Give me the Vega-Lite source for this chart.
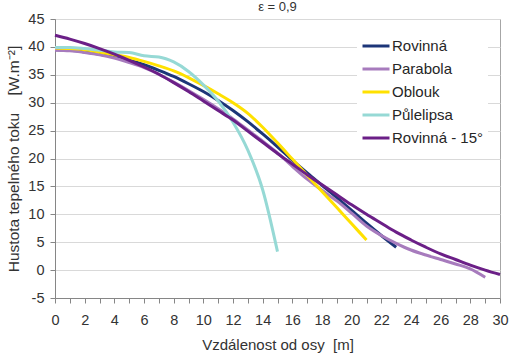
{
  "$schema": "https://vega.github.io/schema/vega-lite/v6.json",
  "width": 445,
  "height": 279,
  "autosize": {"type": "none"},
  "padding": {"left": 55, "top": 19, "right": 12, "bottom": 60},
  "background": "white",
  "config": {
    "font": "Liberation Sans",
    "view": {"stroke": "#a6a6a6", "strokeWidth": 1}
  },
  "title": {"text": "ε = 0,9", "fontSize": 13, "fontWeight": "normal", "color": "#333333", "anchor": "middle", "offset": -3},
  "datasets": {
    "d": [
      {"s": "Rovinná", "x": 0, "y": 39.5}, {"s": "Rovinná", "x": 1, "y": 39.4}, {"s": "Rovinná", "x": 2, "y": 39.1}, {"s": "Rovinná", "x": 3, "y": 38.7}, {"s": "Rovinná", "x": 4, "y": 38.2}, {"s": "Rovinná", "x": 5, "y": 37.6}, {"s": "Rovinná", "x": 6, "y": 36.8}, {"s": "Rovinná", "x": 7, "y": 35.8}, {"s": "Rovinná", "x": 8, "y": 34.7}, {"s": "Rovinná", "x": 9, "y": 33.4}, {"s": "Rovinná", "x": 10, "y": 32.0}, {"s": "Rovinná", "x": 11, "y": 30.4}, {"s": "Rovinná", "x": 12, "y": 28.6}, {"s": "Rovinná", "x": 13, "y": 26.6}, {"s": "Rovinná", "x": 14, "y": 24.4}, {"s": "Rovinná", "x": 15, "y": 22.1}, {"s": "Rovinná", "x": 16, "y": 19.7}, {"s": "Rovinná", "x": 17, "y": 17.4}, {"s": "Rovinná", "x": 18, "y": 15.2}, {"s": "Rovinná", "x": 19, "y": 13.0}, {"s": "Rovinná", "x": 20, "y": 10.7}, {"s": "Rovinná", "x": 21, "y": 8.4}, {"s": "Rovinná", "x": 22, "y": 6.2}, {"s": "Rovinná", "x": 23, "y": 4.1},
      {"s": "Parabola", "x": 0, "y": 39.4}, {"s": "Parabola", "x": 1, "y": 39.3}, {"s": "Parabola", "x": 2, "y": 39.0}, {"s": "Parabola", "x": 3, "y": 38.6}, {"s": "Parabola", "x": 4, "y": 38.0}, {"s": "Parabola", "x": 5, "y": 37.2}, {"s": "Parabola", "x": 6, "y": 36.3}, {"s": "Parabola", "x": 7, "y": 35.1}, {"s": "Parabola", "x": 8, "y": 33.7}, {"s": "Parabola", "x": 9, "y": 32.2}, {"s": "Parabola", "x": 10, "y": 30.6}, {"s": "Parabola", "x": 11, "y": 28.9}, {"s": "Parabola", "x": 12, "y": 27.1}, {"s": "Parabola", "x": 13, "y": 25.1}, {"s": "Parabola", "x": 14, "y": 23.1}, {"s": "Parabola", "x": 15, "y": 21.0}, {"s": "Parabola", "x": 16, "y": 18.6}, {"s": "Parabola", "x": 17, "y": 16.3}, {"s": "Parabola", "x": 18, "y": 14.3}, {"s": "Parabola", "x": 19, "y": 12.4}, {"s": "Parabola", "x": 20, "y": 10.2}, {"s": "Parabola", "x": 21, "y": 7.9}, {"s": "Parabola", "x": 22, "y": 6.2}, {"s": "Parabola", "x": 23, "y": 4.8}, {"s": "Parabola", "x": 24, "y": 3.6}, {"s": "Parabola", "x": 25, "y": 2.7}, {"s": "Parabola", "x": 26, "y": 1.9}, {"s": "Parabola", "x": 27, "y": 1.1}, {"s": "Parabola", "x": 28, "y": 0.2}, {"s": "Parabola", "x": 29, "y": -1.3},
      {"s": "Oblouk", "x": 0, "y": 39.8}, {"s": "Oblouk", "x": 1, "y": 39.7}, {"s": "Oblouk", "x": 2, "y": 39.5}, {"s": "Oblouk", "x": 3, "y": 39.1}, {"s": "Oblouk", "x": 4, "y": 38.6}, {"s": "Oblouk", "x": 5, "y": 38.1}, {"s": "Oblouk", "x": 6, "y": 37.4}, {"s": "Oblouk", "x": 7, "y": 36.6}, {"s": "Oblouk", "x": 8, "y": 35.7}, {"s": "Oblouk", "x": 9, "y": 34.5}, {"s": "Oblouk", "x": 10, "y": 33.1}, {"s": "Oblouk", "x": 11, "y": 31.6}, {"s": "Oblouk", "x": 12, "y": 30.0}, {"s": "Oblouk", "x": 13, "y": 28.1}, {"s": "Oblouk", "x": 14, "y": 25.6}, {"s": "Oblouk", "x": 15, "y": 22.8}, {"s": "Oblouk", "x": 16, "y": 19.9}, {"s": "Oblouk", "x": 17, "y": 17.0}, {"s": "Oblouk", "x": 18, "y": 14.1}, {"s": "Oblouk", "x": 19, "y": 11.2}, {"s": "Oblouk", "x": 20, "y": 8.3}, {"s": "Oblouk", "x": 21, "y": 5.4},
      {"s": "Půlelipsa", "x": 0, "y": 39.9}, {"s": "Půlelipsa", "x": 1, "y": 39.9}, {"s": "Půlelipsa", "x": 2, "y": 39.7}, {"s": "Půlelipsa", "x": 3, "y": 39.4}, {"s": "Půlelipsa", "x": 4, "y": 39.1}, {"s": "Půlelipsa", "x": 5, "y": 39.0}, {"s": "Půlelipsa", "x": 6, "y": 38.4}, {"s": "Půlelipsa", "x": 7, "y": 38.2}, {"s": "Půlelipsa", "x": 8, "y": 37.3}, {"s": "Půlelipsa", "x": 9, "y": 35.6}, {"s": "Půlelipsa", "x": 10, "y": 33.2}, {"s": "Půlelipsa", "x": 11, "y": 30.3}, {"s": "Půlelipsa", "x": 12, "y": 26.5}, {"s": "Půlelipsa", "x": 13, "y": 21.5}, {"s": "Půlelipsa", "x": 14, "y": 14.4}, {"s": "Půlelipsa", "x": 15, "y": 3.3},
      {"s": "Rovinná - 15°", "x": 0, "y": 42.1}, {"s": "Rovinná - 15°", "x": 1, "y": 41.4}, {"s": "Rovinná - 15°", "x": 2, "y": 40.6}, {"s": "Rovinná - 15°", "x": 3, "y": 39.7}, {"s": "Rovinná - 15°", "x": 4, "y": 38.7}, {"s": "Rovinná - 15°", "x": 5, "y": 37.6}, {"s": "Rovinná - 15°", "x": 6, "y": 36.4}, {"s": "Rovinná - 15°", "x": 7, "y": 35.1}, {"s": "Rovinná - 15°", "x": 8, "y": 33.6}, {"s": "Rovinná - 15°", "x": 9, "y": 32.0}, {"s": "Rovinná - 15°", "x": 10, "y": 30.3}, {"s": "Rovinná - 15°", "x": 11, "y": 28.6}, {"s": "Rovinná - 15°", "x": 12, "y": 26.9}, {"s": "Rovinná - 15°", "x": 13, "y": 24.9}, {"s": "Rovinná - 15°", "x": 14, "y": 22.9}, {"s": "Rovinná - 15°", "x": 15, "y": 20.9}, {"s": "Rovinná - 15°", "x": 16, "y": 19.0}, {"s": "Rovinná - 15°", "x": 17, "y": 17.1}, {"s": "Rovinná - 15°", "x": 18, "y": 15.3}, {"s": "Rovinná - 15°", "x": 19, "y": 13.5}, {"s": "Rovinná - 15°", "x": 20, "y": 11.7}, {"s": "Rovinná - 15°", "x": 21, "y": 10.0}, {"s": "Rovinná - 15°", "x": 22, "y": 8.4}, {"s": "Rovinná - 15°", "x": 23, "y": 6.8}, {"s": "Rovinná - 15°", "x": 24, "y": 5.4}, {"s": "Rovinná - 15°", "x": 25, "y": 4.1}, {"s": "Rovinná - 15°", "x": 26, "y": 2.9}, {"s": "Rovinná - 15°", "x": 27, "y": 1.9}, {"s": "Rovinná - 15°", "x": 28, "y": 0.9}, {"s": "Rovinná - 15°", "x": 29, "y": 0.0}, {"s": "Rovinná - 15°", "x": 30, "y": -0.8}
    ]
  },
  "data": {"name": "d"},
  "mark": {"type": "line", "strokeWidth": 3, "interpolate": "monotone"},
  "encoding": {
    "x": {
      "field": "x", "type": "quantitative",
      "scale": {"domain": [0, 30], "nice": false, "zero": false},
      "axis": {
        "values": [0,1,2,3,4,5,6,7,8,9,10,11,12,13,14,15,16,17,18,19,20,21,22,23,24,25,26,27,28,29,30],
        "labelExpr": "datum.value % 2 == 0 ? datum.label : ''",
        "grid": false,
        "domainColor": "#868686", "tickColor": "#868686", "tickSize": 5,
        "labelFontSize": 14.5, "labelColor": "#333333", "labelPadding": 10, "labelFlush": false,
        "title": "Vzdálenost od osy\u00a0\u00a0[m]", "titleFontSize": 15, "titleFontWeight": "normal", "titleColor": "#333333", "titlePadding": 11
      }
    },
    "y": {
      "field": "y", "type": "quantitative",
      "scale": {"domain": [-5, 45], "nice": false, "zero": false},
      "axis": {
        "values": [-5, 0, 5, 10, 15, 20, 25, 30, 35, 40, 45],
        "labelExpr": "toString(datum.value)",
        "gridColor": "#d9d9d9", "gridWidth": 1,
        "domainColor": "#868686", "tickColor": "#868686", "tickSize": 5,
        "labelFontSize": 14.5, "labelColor": "#333333", "labelPadding": 6, "labelFlush": false,
        "title": "Hustota tepelného toku\u00a0\u00a0\u00a0\u00a0[W.m\u207b\u00b2]", "titleFontSize": 15.5, "titleFontWeight": "normal", "titleColor": "#333333", "titlePadding": 6
      }
    },
    "color": {
      "field": "s", "type": "nominal",
      "scale": {"domain": ["Rovinná", "Parabola", "Oblouk", "Půlelipsa", "Rovinná - 15°"], "range": ["#1c3578", "#a77bbd", "#ffe100", "#96d9d5", "#6b1f87"]},
      "legend": {
        "title": null, "orient": "none", "legendX": 302, "legendY": 8,
        "symbolType": "stroke", "symbolSize": 729, "symbolStrokeWidth": 3,
        "labelFontSize": 15, "labelColor": "#262626", "labelOffset": 1,
        "fillColor": "white", "padding": 4, "rowPadding": 0
      }
    }
  }
}
